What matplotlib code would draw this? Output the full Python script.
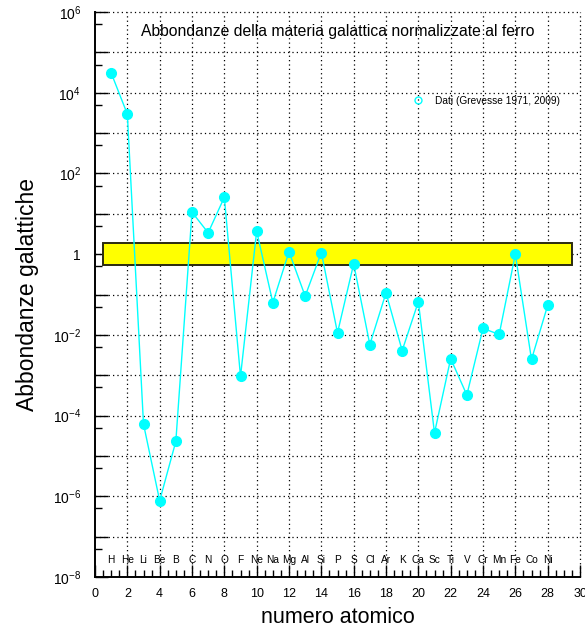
import numpy as np
import matplotlib
matplotlib.use("Agg")
import matplotlib.pyplot as plt
from matplotlib.ticker import FixedLocator, FuncFormatter, NullFormatter
from matplotlib.patches import Rectangle
from matplotlib.lines import Line2D
import matplotlib.transforms as mtransforms

plt.rcParams['font.family'] = ['Liberation Sans', 'DejaVu Sans']
plt.rcParams['mathtext.fontset'] = 'custom'
plt.rcParams['mathtext.rm'] = 'Liberation Sans'
plt.rcParams['mathtext.it'] = 'Liberation Sans:italic'
plt.rcParams['mathtext.bf'] = 'Liberation Sans:bold'

# Data
numero_atomico = list(range(1, 29))
elementi = ["H", "He", "Li", "Be", "B", "C", "N", "O", "F", "Ne", "Na", "Mg", "Al", "Si",
            "P", "S", "Cl", "Ar", "K", "Ca", "Sc", "Ti", "V", "Cr", "Mn", "Fe", "Co", "Ni"]
log_abbondanza = [4.49, 3.47, -4.21, -6.11, -4.64, 1.04, 0.53, 1.41, -3.03, 0.57,
                  -1.20, 0.06, -1.04, 0.04, -1.95, -0.24, -2.24, -0.96, -2.39, -1.18,
                  -4.43, -2.59, -3.49, -1.84, -1.99, 0.00, -2.61, -1.27]
abbondanza = [10.0 ** v for v in log_abbondanza]
banda_x = [0.5, 29.5]
banda_y = [0.53, 1.87]
titolo = "Abbondanze della materia galattica normalizzate al ferro"
legenda = "Dati (Grevesse 1971, 2009)"

fig = plt.figure(figsize=(5.85, 6.32), dpi=100)
ax = fig.add_axes([95/585, 55/632, 485/585, 565/632])
ax.set_yscale('log')
ax.set_xlim(0, 30)
ax.set_ylim(1e-8, 1e6)

# grid
dot = (0, (1, 2.5))
for xv in range(2, 31, 2):
    ax.axvline(xv, color='black', lw=0.9, ls=dot, zorder=1, clip_on=False)
for e in range(-7, 7):
    ax.axhline(10.0 ** e, color='black', lw=0.9, ls=dot, zorder=1, clip_on=False)

# band
ax.add_patch(Rectangle((banda_x[0], banda_y[0]), banda_x[1] - banda_x[0], banda_y[1] - banda_y[0],
                       facecolor='#ffff00', edgecolor='#2b2b10', lw=1.4, zorder=2))

ax.plot(numero_atomico, abbondanza, color='#00ffff', lw=1.0, marker='o', markersize=7,
        markerfacecolor='#00ffff', markeredgecolor='#00ffff', zorder=3)

# element labels
trans = mtransforms.blended_transform_factory(ax.transData, ax.transAxes)
for z, el in zip(numero_atomico, elementi):
    ax.text(z, 0.030, el, transform=trans, ha='center', va='center', fontsize=7.3, zorder=4)

# spines
for s in ['top', 'right']:
    ax.spines[s].set_visible(False)
ax.spines['left'].set_linewidth(1.4)
ax.spines['bottom'].set_linewidth(1.4)

# ticks
ax.xaxis.set_major_locator(FixedLocator(list(range(0, 31, 2))))
ax.xaxis.set_minor_locator(FixedLocator(list(np.arange(0, 30.01, 0.5))))
ax.tick_params(axis='x', which='major', direction='in', length=9, width=1, labelsize=9, pad=8)
ax.tick_params(axis='x', which='minor', direction='in', length=5, width=1)

ax.yaxis.set_major_locator(FixedLocator([10.0 ** e for e in range(-8, 7)]))
ax.yaxis.set_minor_locator(FixedLocator([5 * 10.0 ** e for e in range(-8, 6)]))

def fmt(v, pos):
    e = int(round(np.log10(v)))
    if e % 2 != 0:
        return ''
    if e == 0:
        return '1'
    return r'$10^{%d}$' % e

ax.yaxis.set_major_formatter(FuncFormatter(fmt))
ax.yaxis.set_minor_formatter(NullFormatter())
ax.tick_params(axis='y', which='major', direction='in', length=9, width=1, labelsize=10, pad=10)
ax.tick_params(axis='y', which='minor', direction='in', length=5, width=1)

ax.set_xlabel("numero atomico", fontsize=15.5, labelpad=5)
ax.set_ylabel("Abbondanze galattiche", fontsize=16.5, labelpad=10)

ax.text(0.5, 0.965, titolo, transform=ax.transAxes, ha='center', va='center', fontsize=11.3)

h = Line2D([], [], color='#00ffff', marker='o', ls='none', markersize=5,
           markerfacecolor='none', markeredgewidth=1)
ax.legend([h], [legenda], loc='center left', bbox_to_anchor=(0.636, 0.8425), frameon=False,
          fontsize=7.3, handletextpad=0.7, borderaxespad=0)

fig.savefig("out.png", dpi=100)
